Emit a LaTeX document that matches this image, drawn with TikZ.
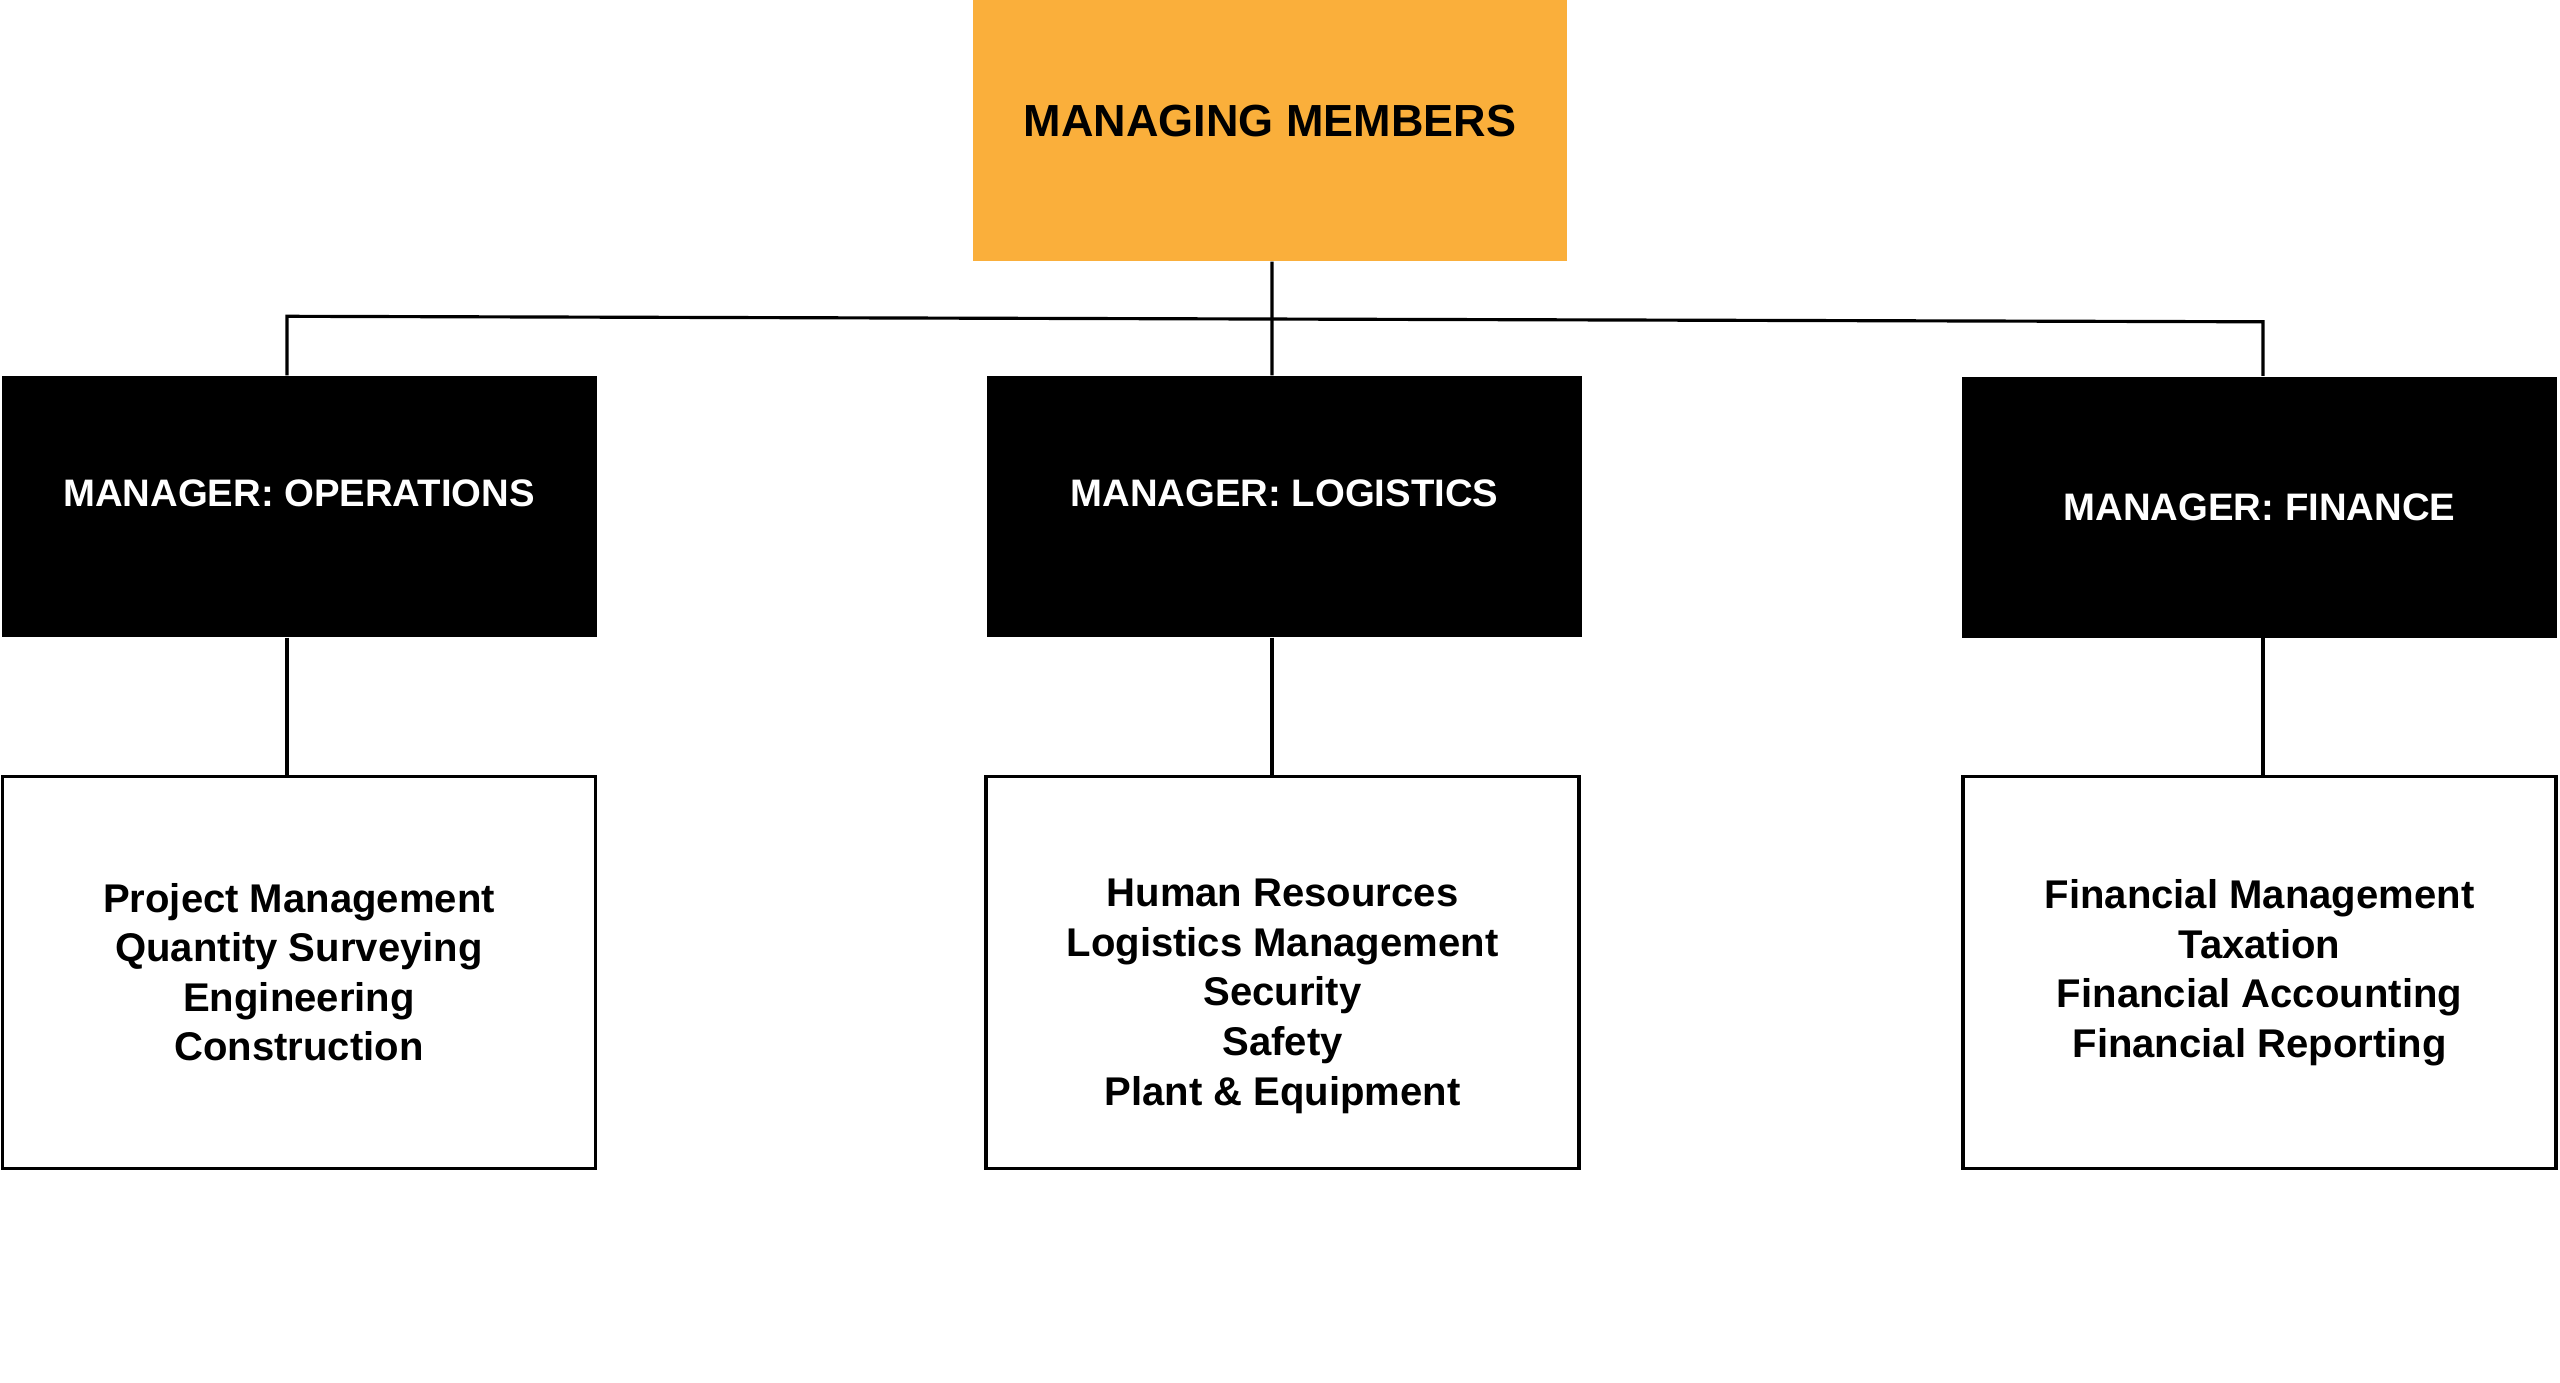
\documentclass[tikz,border=0pt]{standalone}
\usepackage{fontspec}
\setmainfont{Liberation Sans}
\usetikzlibrary{positioning}
\definecolor{orange}{HTML}{FAAF3B}

\begin{document}
\begin{tikzpicture}[
  node distance=13.7mm,
  head/.style={fill=orange,minimum width=59.4mm,minimum height=26.1mm,align=center,text height=3mm,text depth=1.8mm,font=\fontsize{12.8}{15}\selectfont\bfseries},
  mgr/.style={fill=black,text=white,minimum width=59.5mm,minimum height=26.1mm,align=center,font=\fontsize{10.9}{13}\selectfont\bfseries},
  raised/.style={text height=2mm,text depth=2mm},
  dept/.style={draw=black,line width=0.9pt,fill=white,minimum width=59.3mm,minimum height=39.2mm,align=center,font=\fontsize{11.4}{14.1}\selectfont\bfseries},
  link/.style={line width=0.9pt,draw=black}
]
\useasboundingbox (0,0) rectangle (25.6,-13.83);

\node[head] (members) at (12.70,-1.305) {MANAGING MEMBERS};

\node[mgr,raised] (ops) at (2.99,-5.065) {MANAGER: OPERATIONS};
\node[mgr,raised] (log) at (12.845,-5.065) {MANAGER: LOGISTICS};
\node[mgr] (fin) at (22.595,-5.07) {MANAGER: FINANCE};

\node[dept,below=of ops] (opsdept) {Project Management\\Quantity Surveying\\Engineering\\Construction};
\node[dept,below=of log,xshift=-0.2mm] (logdept) {\mbox{}\\[2.6mm]Human Resources\\Logistics Management\\Security\\Safety\\Plant \& Equipment};
\node[dept,below=of fin] (findept) {Financial Management\\Taxation\\Financial Accounting\\Financial Reporting};

% top level bus
\coordinate[above=5.9mm of ops.north,xshift=-1.2mm] (busw);
\coordinate[above=5.4mm of fin.north,xshift=0.35mm] (buse);
\draw[link] ([xshift=-1.2mm]ops.north) -- (busw) -- (buse) -- ([xshift=0.35mm]fin.north);
\draw[link] ([xshift=0.2mm]members.south) -- ([xshift=-1.25mm]log.north);

% managers to departments
\draw[link] ([xshift=-1.2mm]ops.south) -- ([xshift=-1.2mm]ops.south |- opsdept.north);
\draw[link] ([xshift=-1.25mm]log.south) -- ([xshift=-1.25mm]log.south |- logdept.north);
\draw[link] ([xshift=0.35mm]fin.south) -- ([xshift=0.35mm]fin.south |- findept.north);
\end{tikzpicture}
\end{document}
